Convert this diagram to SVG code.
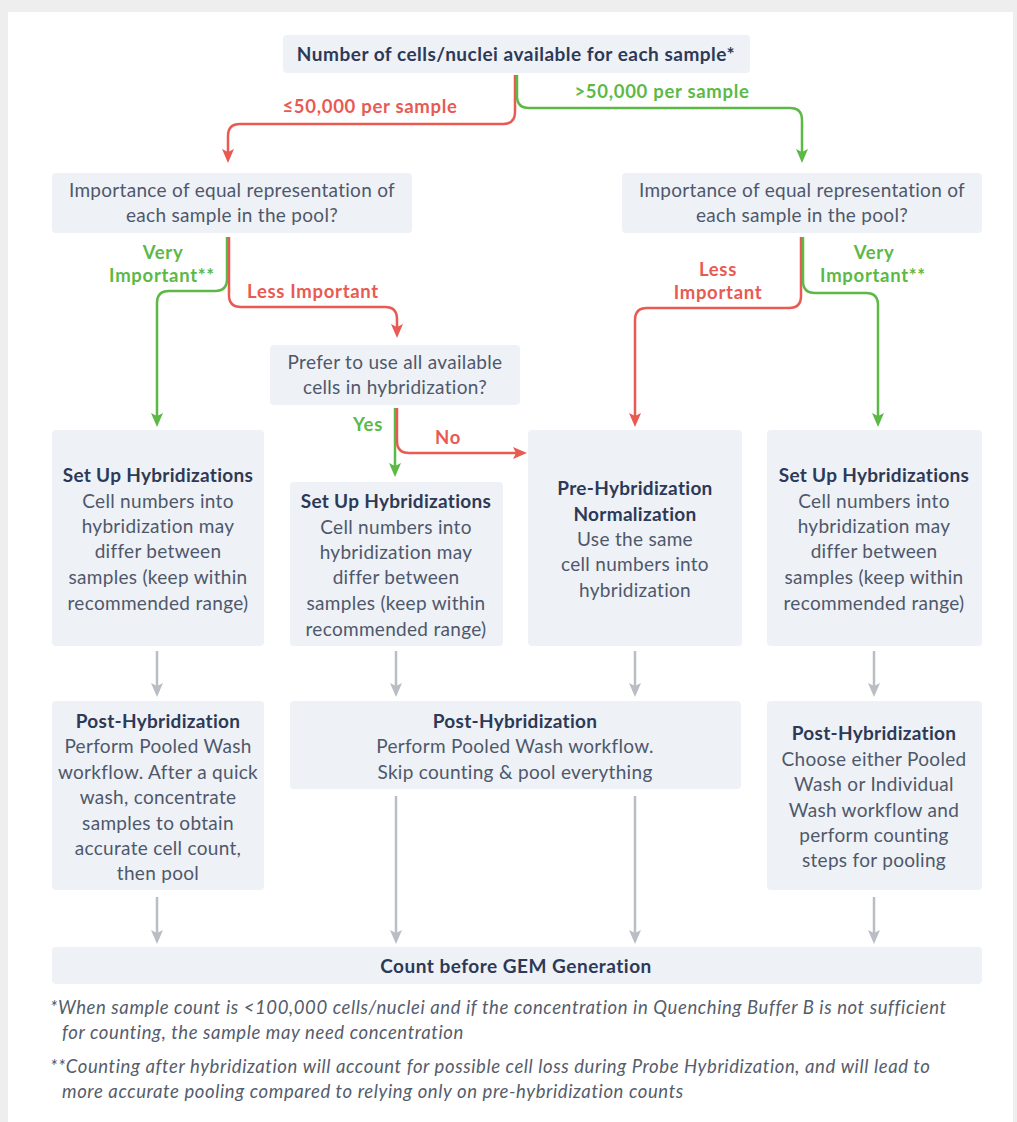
<svg xmlns="http://www.w3.org/2000/svg" width="1017" height="1122" viewBox="0 0 1017 1122">
<style>
.box{fill:#eef1f5}
.t{font-family:Lato,"Open Sans","Liberation Sans",sans-serif;text-anchor:middle}
.b{font-weight:700;fill:#2c3957;font-size:19px;letter-spacing:0.3px}
.h{font-weight:700;fill:#2c3957;font-size:19px;letter-spacing:0.5px}
.n{font-weight:400;fill:#4e586c;font-size:19px;letter-spacing:0.3px}
.lr{font-weight:700;fill:#e85a52;font-size:18.5px;letter-spacing:0.7px}
.lg{font-weight:700;fill:#5cb946;font-size:18.5px;letter-spacing:0.7px}
.fn{font-family:Lato,"Open Sans","Liberation Sans",sans-serif;font-style:italic;fill:#555d6c;font-size:18.5px;letter-spacing:0.6px}
.cr{fill:none;stroke:#e85a52;stroke-width:2.5}
.cg{fill:none;stroke:#5cb946;stroke-width:2.5}
.cy{fill:none;stroke:#b9bdc4;stroke-width:2.5}
</style>
<defs>
<marker id="mr" viewBox="0 0 14 12" refX="3" refY="6" markerWidth="14" markerHeight="12" markerUnits="userSpaceOnUse" orient="auto"><path d="M0,0 L14,6 L0,12 L3,6 z" fill="#e85a52"/></marker>
<marker id="mg" viewBox="0 0 14 12" refX="3" refY="6" markerWidth="14" markerHeight="12" markerUnits="userSpaceOnUse" orient="auto"><path d="M0,0 L14,6 L0,12 L3,6 z" fill="#5cb946"/></marker>
<marker id="my" viewBox="0 0 14 12" refX="3" refY="6" markerWidth="14" markerHeight="12" markerUnits="userSpaceOnUse" orient="auto"><path d="M0,0 L14,6 L0,12 L3,6 z" fill="#b9bdc4"/></marker>
</defs>
<rect x="0" y="0" width="1017" height="1122" fill="#eeeeee"/>
<rect x="8" y="12" width="1005" height="1110" fill="#ffffff"/>

<g id="connectors">
<path class="cr" marker-end="url(#mr)" d="M515,75 V112 Q515,124 503,124 H240 Q228,124 228,136 V152"/>
<path class="cg" marker-end="url(#mg)" d="M517,75 V96 Q517,108 529,108 H790 Q802,108 802,120 V152"/>
<path class="cg" marker-end="url(#mg)" d="M227,237 V279 Q227,291 215,291 H169 Q157,291 157,303 V416"/>
<path class="cr" marker-end="url(#mr)" d="M229,237 V295 Q229,307 241,307 H385 Q397,307 397,319 V327"/>
<path class="cg" marker-end="url(#mg)" d="M395,408 V466"/>
<path class="cr" marker-end="url(#mr)" d="M397,408 V441 Q397,453 409,453 H516"/>
<path class="cr" marker-end="url(#mr)" d="M801,237 V296 Q801,308 789,308 H647 Q635,308 635,320 V416"/>
<path class="cg" marker-end="url(#mg)" d="M803,237 V281 Q803,293 815,293 H866 Q878,293 878,305 V416"/>
<path class="cy" marker-end="url(#my)" d="M157,651 V686"/>
<path class="cy" marker-end="url(#my)" d="M396,651 V686"/>
<path class="cy" marker-end="url(#my)" d="M635,651 V686"/>
<path class="cy" marker-end="url(#my)" d="M874,651 V686"/>
<path class="cy" marker-end="url(#my)" d="M157,897 V933"/>
<path class="cy" marker-end="url(#my)" d="M396,796 V933"/>
<path class="cy" marker-end="url(#my)" d="M635,796 V933"/>
<path class="cy" marker-end="url(#my)" d="M874,897 V933"/>
<text class="t lr" x="370" y="113">≤50,000 per sample</text>
<text class="t lg" x="662" y="98">&gt;50,000 per sample</text>
<text class="t lg" x="163" y="259">Very</text>
<text class="t lg" x="162" y="282">Important**</text>
<text class="t lr" x="313" y="298">Less Important</text>
<text class="t lr" x="718" y="276">Less</text>
<text class="t lr" x="718" y="299">Important</text>
<text class="t lg" x="874" y="259">Very</text>
<text class="t lg" x="873" y="282">Important**</text>
<text class="t lg" x="368" y="431">Yes</text>
<text class="t lr" x="448" y="444">No</text>
</g>

<g id="top">
<rect class="box" x="283" y="35" width="467" height="38" rx="4"/>
<text class="t h" x="516" y="61">Number of cells/nuclei available for each sample*</text>
</g>

<g id="q-left">
<rect class="box" x="52" y="173" width="360" height="60" rx="4"/>
<text class="t n" x="232" y="197">Importance of equal representation of</text>
<text class="t n" x="232" y="222">each sample in the pool?</text>
</g>

<g id="q-right">
<rect class="box" x="622" y="173" width="360" height="60" rx="4"/>
<text class="t n" x="802" y="197">Importance of equal representation of</text>
<text class="t n" x="802" y="222">each sample in the pool?</text>
</g>

<g id="q-prefer">
<rect class="box" x="270" y="345" width="250" height="60" rx="4"/>
<text class="t n" x="395" y="369">Prefer to use all available</text>
<text class="t n" x="395" y="394">cells in hybridization?</text>
</g>

<g id="setup-1">
<rect class="box" x="52" y="430" width="212" height="216" rx="4"/>
<text class="t b" x="158" y="482">Set Up Hybridizations</text>
<text class="t n" x="158" y="508">Cell numbers into</text>
<text class="t n" x="158" y="533">hybridization may</text>
<text class="t n" x="158" y="558">differ between</text>
<text class="t n" x="158" y="584">samples (keep within</text>
<text class="t n" x="158" y="610">recommended range)</text>
</g>

<g id="setup-2">
<rect class="box" x="290" y="482" width="213" height="164" rx="4"/>
<text class="t b" x="396" y="508">Set Up Hybridizations</text>
<text class="t n" x="396" y="534">Cell numbers into</text>
<text class="t n" x="396" y="559">hybridization may</text>
<text class="t n" x="396" y="584">differ between</text>
<text class="t n" x="396" y="610">samples (keep within</text>
<text class="t n" x="396" y="636">recommended range)</text>
</g>

<g id="prehyb">
<rect class="box" x="528" y="430" width="214" height="216" rx="4"/>
<text class="t b" x="635" y="495">Pre-Hybridization</text>
<text class="t b" x="635" y="521">Normalization</text>
<text class="t n" x="635" y="546">Use the same</text>
<text class="t n" x="635" y="571">cell numbers into</text>
<text class="t n" x="635" y="597">hybridization</text>
</g>

<g id="setup-3">
<rect class="box" x="767" y="430" width="215" height="216" rx="4"/>
<text class="t b" x="874" y="482">Set Up Hybridizations</text>
<text class="t n" x="874" y="508">Cell numbers into</text>
<text class="t n" x="874" y="533">hybridization may</text>
<text class="t n" x="874" y="558">differ between</text>
<text class="t n" x="874" y="584">samples (keep within</text>
<text class="t n" x="874" y="610">recommended range)</text>
</g>

<g id="post-1">
<rect class="box" x="52" y="701" width="212" height="189" rx="4"/>
<text class="t b" x="158" y="728">Post-Hybridization</text>
<text class="t n" x="158" y="753">Perform Pooled Wash</text>
<text class="t n" x="158" y="779">workflow. After a quick</text>
<text class="t n" x="158" y="804">wash, concentrate</text>
<text class="t n" x="158" y="830">samples to obtain</text>
<text class="t n" x="158" y="855">accurate cell count,</text>
<text class="t n" x="158" y="880">then pool</text>
</g>

<g id="post-2">
<rect class="box" x="290" y="701" width="451" height="88" rx="4"/>
<text class="t b" x="515" y="728">Post-Hybridization</text>
<text class="t n" x="515" y="753">Perform Pooled Wash workflow.</text>
<text class="t n" x="515" y="779">Skip counting &amp; pool everything</text>
</g>

<g id="post-3">
<rect class="box" x="767" y="701" width="215" height="189" rx="4"/>
<text class="t b" x="874" y="740">Post-Hybridization</text>
<text class="t n" x="874" y="766">Choose either Pooled</text>
<text class="t n" x="874" y="791">Wash or Individual</text>
<text class="t n" x="874" y="817">Wash workflow and</text>
<text class="t n" x="874" y="842">perform counting</text>
<text class="t n" x="874" y="867">steps for pooling</text>
</g>

<g id="count">
<rect class="box" x="52" y="947" width="930" height="37" rx="4"/>
<text class="t h" x="516" y="973">Count before GEM Generation</text>
</g>

<g id="footnotes">
<text class="fn" x="50" y="1014">*When sample count is &lt;100,000 cells/nuclei and if the concentration in Quenching Buffer B is not sufficient</text>
<text class="fn" x="62" y="1039">for counting, the sample may need concentration</text>
<text class="fn" x="50" y="1073">**Counting after hybridization will account for possible cell loss during Probe Hybridization, and will lead to</text>
<text class="fn" x="62" y="1098">more accurate pooling compared to relying only on pre-hybridization counts</text>
</g>
</svg>
